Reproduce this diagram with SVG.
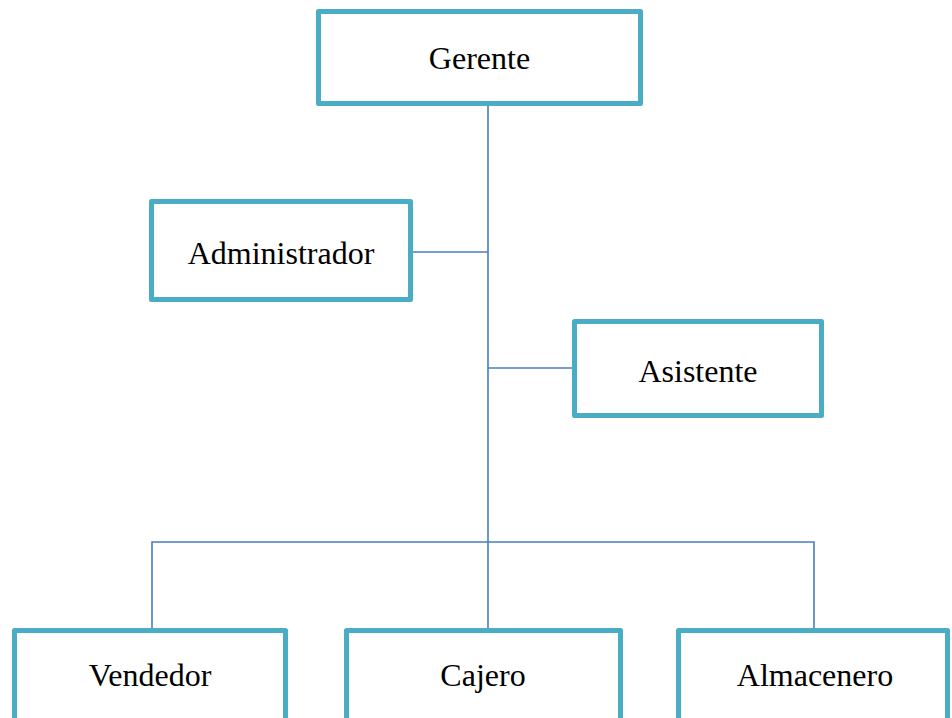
<svg xmlns="http://www.w3.org/2000/svg" width="952" height="718" viewBox="0 0 952 718">
<style>
.box{fill:#ffffff;stroke:#4BACC6;stroke-width:5;stroke-linejoin:round}
.lbl{font-family:"Liberation Serif","Times New Roman",serif;font-size:32px;fill:#000000;text-anchor:middle}
.conn{fill:none;stroke:#4A7EBB;stroke-width:1.6}
</style>
<rect width="952" height="718" fill="#ffffff"/>
<g id="connectors">
<path class="conn" d="M488,104 V628"/>
<path class="conn" d="M411,252 H488"/>
<path class="conn" d="M488,368 H574"/>
<path class="conn" d="M152,628 V542 H814 V628"/>
</g>
<g id="gerente">
<rect class="box" x="318.5" y="11.5" width="322" height="92"/>
<text class="lbl" x="479.5" y="69">Gerente</text>
</g>
<g id="administrador">
<rect class="box" x="151.5" y="201.5" width="259" height="98"/>
<text class="lbl" x="281" y="264">Administrador</text>
</g>
<g id="asistente">
<rect class="box" x="574.5" y="321.5" width="247" height="94"/>
<text class="lbl" x="698" y="382">Asistente</text>
</g>
<g id="vendedor">
<rect class="box" x="14.5" y="630.5" width="271" height="100"/>
<text class="lbl" x="150" y="686">Vendedor</text>
</g>
<g id="cajero">
<rect class="box" x="346.5" y="630.5" width="274" height="100"/>
<text class="lbl" x="483" y="686">Cajero</text>
</g>
<g id="almacenero">
<rect class="box" x="678.5" y="630.5" width="269" height="100"/>
<text class="lbl" x="815" y="686">Almacenero</text>
</g>
</svg>
